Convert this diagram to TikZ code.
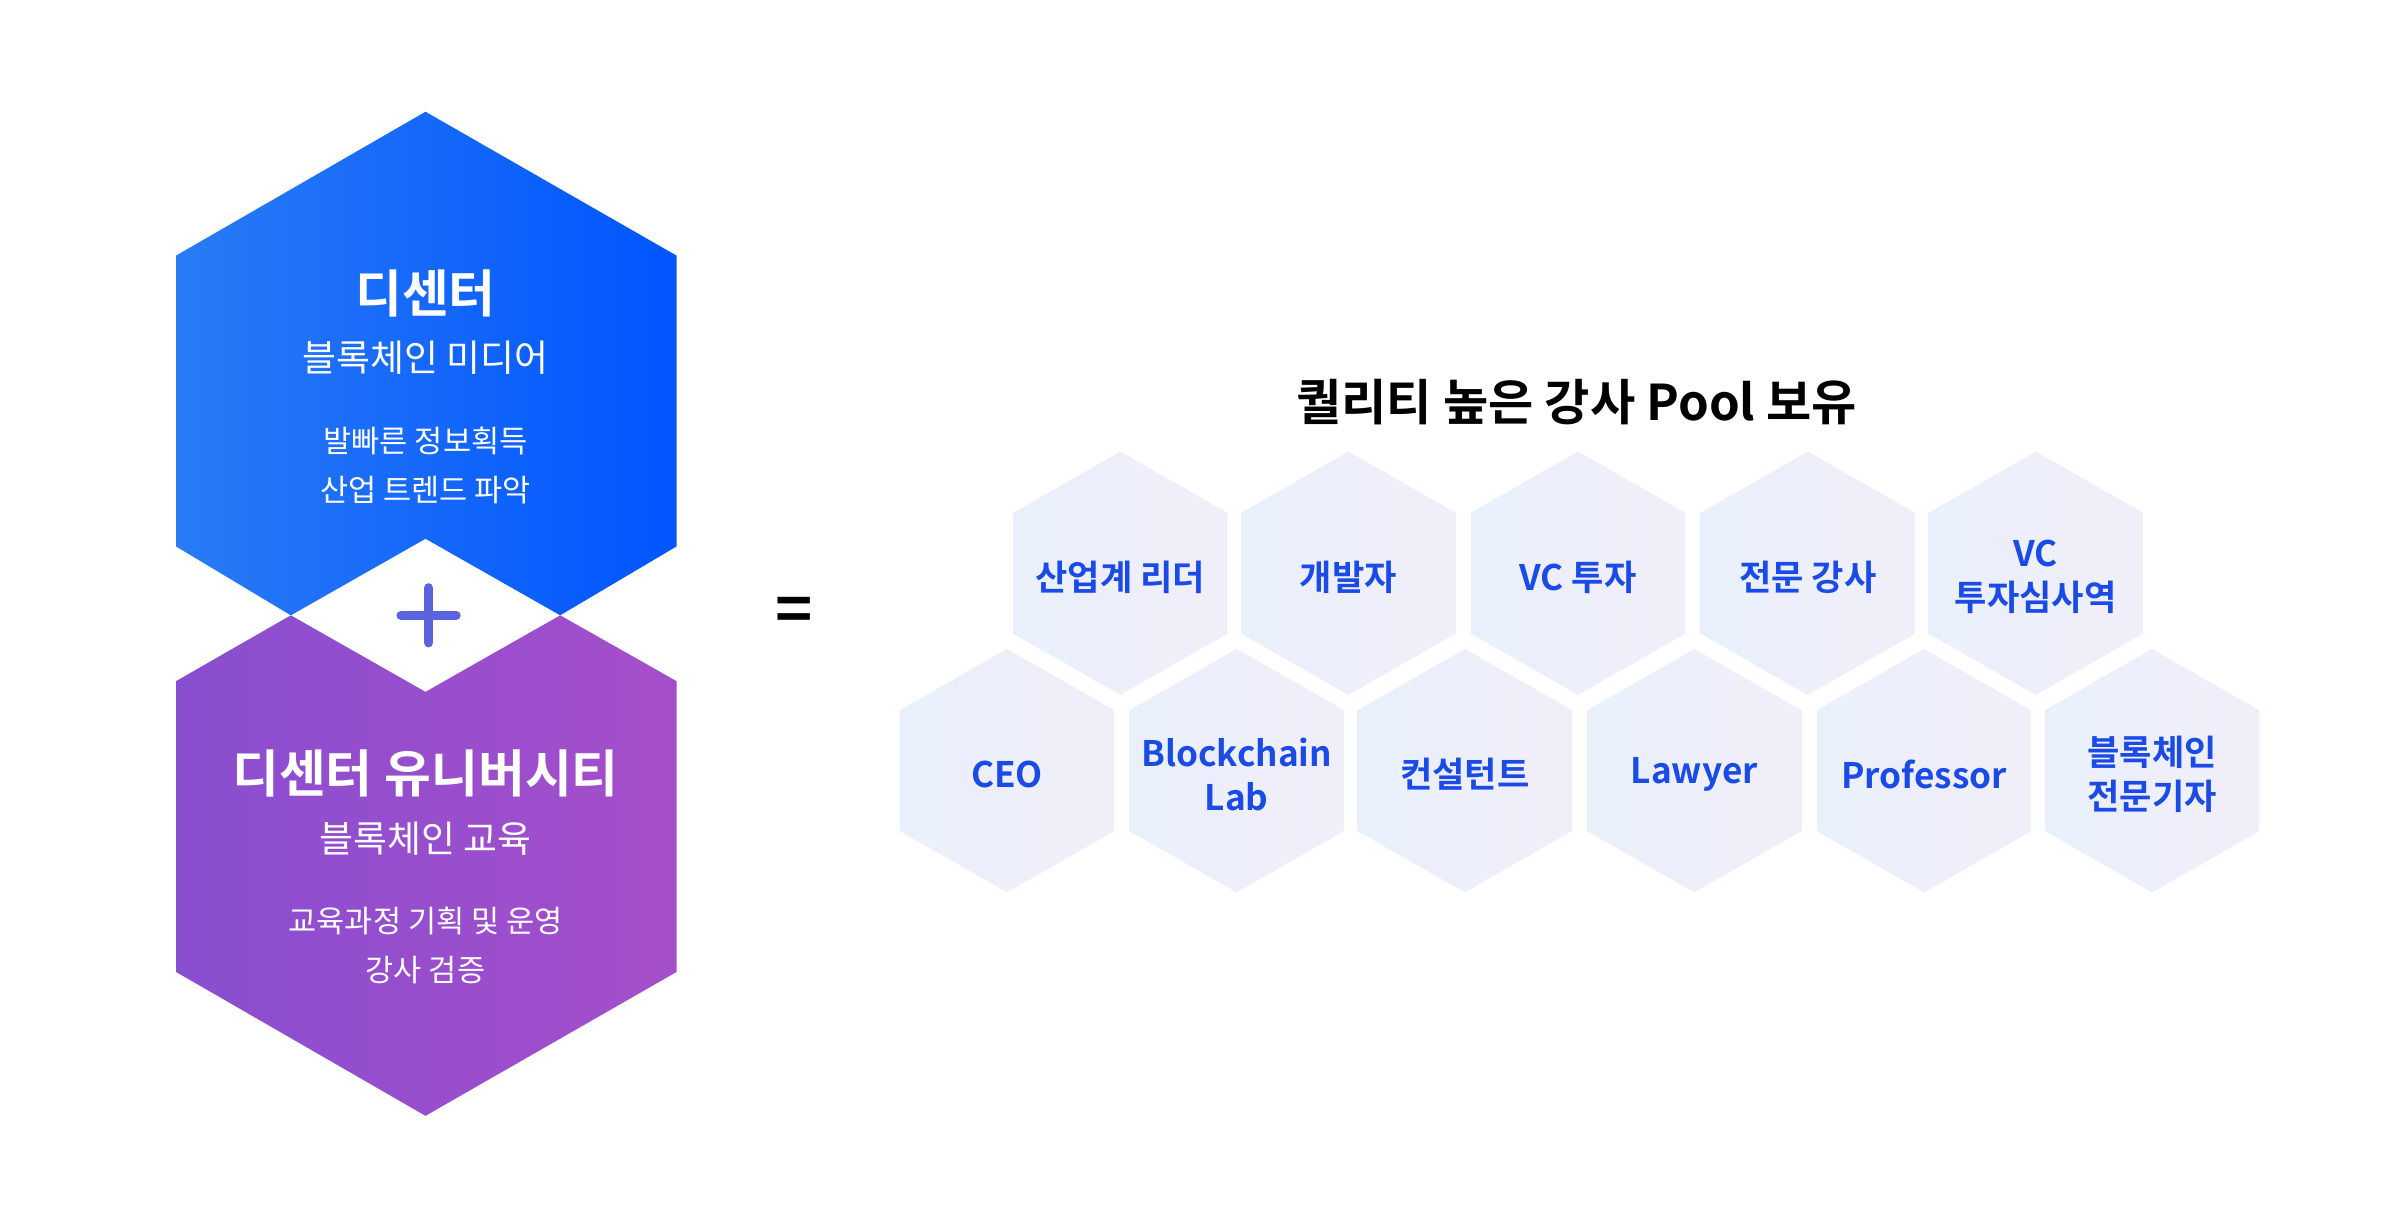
\documentclass[tikz,border=0pt]{standalone}
\usepackage{fontspec}
\setmainfont{Noto Sans CJK KR}
\newfontfamily\kb{Noto Sans CJK KR Bold}
\usetikzlibrary{shadings}
\definecolor{lblue}{HTML}{1A4BE6}
\definecolor{pl}{HTML}{5B63DD}
\definecolor{ba}{HTML}{2A7BF5}
\definecolor{bb}{HTML}{0055FF}
\definecolor{pa}{HTML}{884ED0}
\definecolor{pb}{HTML}{A64ECA}
\definecolor{sa}{HTML}{E9F0FC}
\definecolor{sb}{HTML}{F1EEF9}
\tikzset{
 small/.style={draw=none,left color=sa,right color=sb},
 lab/.style={font=\kb\fontsize{10}{12.5}\selectfont,text=lblue,align=center},
}
\begin{document}
\begin{tikzpicture}[x=0.015306cm,y=-0.015306cm]
\useasboundingbox[fill=white] (0,0) rectangle (1568,802);
\path[draw=none,left color=ba,right color=bb]
 (278,73)--(442,167)--(442,357)--(366,402)--(278,352)--(190,402)--(115,357)--(115,167)--cycle;
\path[draw=none,left color=pa,right color=pb]
 (115,445)--(190,402)--(278,452)--(366,402)--(442,445)--(442,635)--(278,729)--(115,635)--cycle;
\node[text=white,font=\kb\fontsize{14.5}{16}\selectfont] (t1) at (278,192) {디센터};
\node[text=white,font=\fontsize{10.5}{12}\selectfont] (t2) at (278,234) {블록체인 미디어};
\node[text=white,font=\fontsize{8.7}{10}\selectfont] (t3) at (278,288) {발빠른 정보획득};
\node[text=white,font=\fontsize{8.7}{10}\selectfont] (t4) at (278,320) {산업 트렌드 파악};
\node[text=white,font=\kb\fontsize{14.5}{17}\selectfont] (b1) at (278,505) {디센터 유니버시티};
\node[text=white,font=\fontsize{10.5}{12}\selectfont] (b2) at (278,548) {블록체인 교육};
\node[text=white,font=\fontsize{8.7}{10}\selectfont] (b3) at (278,602) {교육과정 기획 및 운영};
\node[text=white,font=\fontsize{8.7}{10}\selectfont] (b4) at (278,634) {강사 검증};
\draw[pl,line width=2.6pt,line cap=round] (262,402)--(298,402) (280,384)--(280,420);
\node[font=\kb\fontsize{18}{20}\selectfont] (eq) at (519,402) {=};
\node[font=\kb\fontsize{14}{16}\selectfont] (tt) at (1030,263) {퀄리티 높은 강사 Pool 보유};
\foreach \x/\y/\t in {732/374/산업계 리더,881/374/개발자,1031/374/VC 투자,1181/374/전문 강사,1330/374/VC\\투자심사역,
 658/503/CEO,808/503/Blockchain\\Lab,957/503/컨설턴트,1107/503/Lawyer,1257/503/Professor,1406/503/블록체인\\전문기자}{
 \path[small] (\x,\y) ++(0,-79)--++(70,40)--++(0,79)--++(-70,40)--++(-70,-40)--++(0,-79)--cycle;
 \node[lab] at (\x,\y+3) {\t};
}
\end{tikzpicture}
\end{document}
